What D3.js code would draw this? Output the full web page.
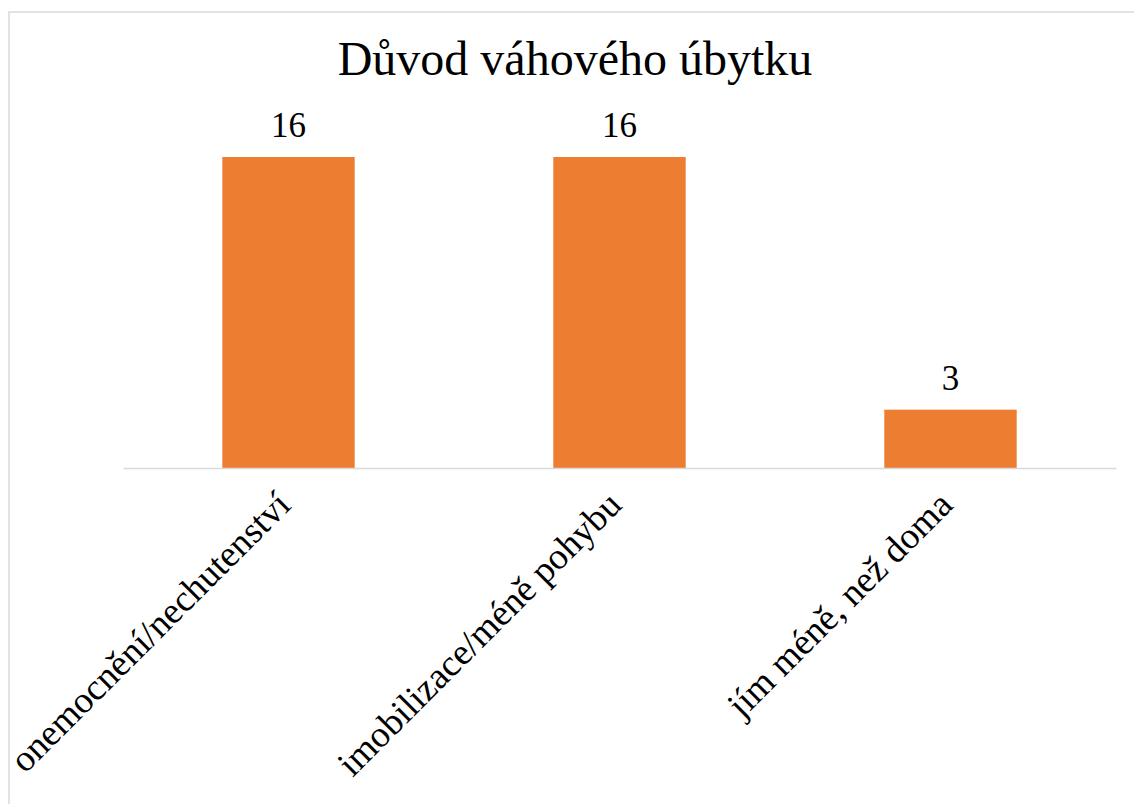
<!DOCTYPE html>
<html>
<head>
<meta charset="utf-8">
<script src="https://cdn.jsdelivr.net/npm/d3@7"></script>
<style>
  body { margin: 0; background: #fff; }
  svg text { font-family: 'Liberation Serif', 'Times New Roman', serif; }
</style>
</head>
<body>
<svg width="1134" height="804"></svg>
<script>
// data
const categories = ['onemocnění/nechutenství', 'imobilizace/méně pohybu', 'jím méně, než doma'];
const values = [16, 16, 3];
const title = 'Důvod váhového úbytku';

const serif = "'Liberation Serif', 'Times New Roman', serif";
const svg = d3.select('svg');
const W = 1134, H = 804;

// chart frame (cut off on right/bottom like the reference)
svg.append('rect')
    .attr('x', 9).attr('y', 12)
    .attr('width', W + 10).attr('height', H + 10)
    .attr('fill', '#fff')
    .attr('stroke', '#d9d9d9')
    .attr('stroke-width', 1.5);

const plot = { left: 123, right: 1116, top: 157, bottom: 468 };

const scX = d3.scaleBand()
    .domain(categories)
    .range([plot.left, plot.right])
    .paddingInner(0.6)
    .paddingOuter(0.3);

const scY = d3.scaleLinear()
    .domain([0, 16])
    .range([plot.bottom, plot.top]);

// title
svg.append('text')
    .attr('x', 575).attr('y', 75)
    .attr('text-anchor', 'middle')
    .attr('font-family', serif)
    .style('font-size', '48px')
    .style('fill', '#000')
    .text(title);

// bars
svg.selectAll('.bar')
    .data(values)
    .enter()
    .append('rect')
    .attr('class', 'bar')
    .attr('x', (d, i) => scX(categories[i]))
    .attr('y', d => scY(d))
    .attr('width', scX.bandwidth())
    .attr('height', d => scY(0) - scY(d))
    .style('fill', '#ed7d31');

// data labels
svg.selectAll('.val')
    .data(values)
    .enter()
    .append('text')
    .attr('class', 'val')
    .attr('x', (d, i) => scX(categories[i]) + scX.bandwidth() / 2)
    .attr('y', d => scY(d) - 20)
    .attr('text-anchor', 'middle')
    .attr('font-family', serif)
    .style('font-size', '35px')
    .text(d => d);

// x axis
const axis = svg.append('g')
    .attr('transform', `translate(0, ${plot.bottom})`)
    .call(d3.axisBottom(scX).tickSize(0).tickSizeOuter(0))
    .attr('font-family', serif);

axis.select('.domain')
    .attr('stroke', '#d9d9d9')
    .attr('stroke-width', 1.5);

axis.selectAll('text')
    .style('font-family', serif)
    .style('font-size', '37px')
    .style('fill', '#000')
    .attr('text-anchor', 'end')
    .attr('dy', 0)
    .attr('y', 0)
    .attr('transform', 'translate(4, 39) rotate(-45)');
</script>
</body>
</html>
